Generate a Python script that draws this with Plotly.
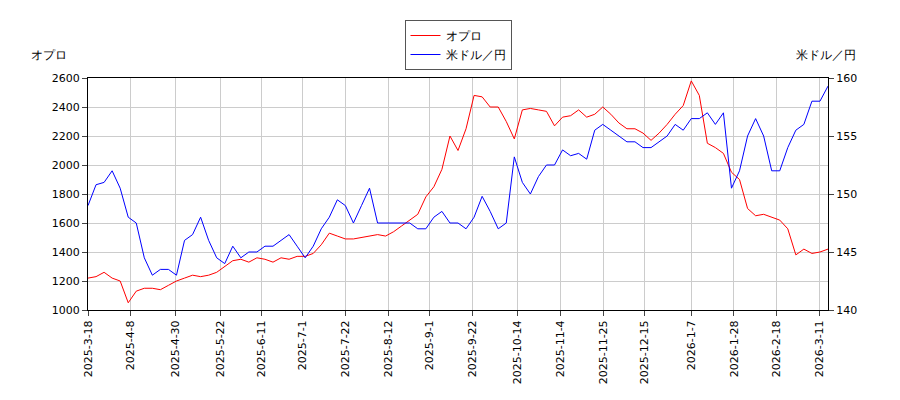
import pandas as pd
import plotly.graph_objects as go

# data (about every 4 days)
dates = pd.date_range("2025-03-18", "2026-03-15", periods=93)

opuro = [1220, 1230, 1260, 1220, 1200, 1050, 1130, 1150, 1150, 1140,
         1170, 1200, 1220, 1240, 1230, 1240, 1260, 1300, 1340, 1350,
         1330, 1360, 1350, 1330, 1360, 1350, 1370, 1370, 1390, 1450,
         1530, 1510, 1490, 1490, 1500, 1510, 1520, 1510, 1540, 1580,
         1620, 1660, 1780, 1850, 1970, 2200, 2100, 2250, 2480, 2470,
         2400, 2400, 2300, 2180, 2380, 2390, 2380, 2370, 2270, 2330,
         2340, 2380, 2330, 2350, 2400, 2350, 2290, 2250, 2250, 2220,
         2170, 2220, 2280, 2350, 2410, 2580, 2480, 2150, 2120, 2080,
         1950, 1900, 1700, 1650, 1660, 1640, 1620, 1560, 1380, 1420,
         1390, 1400, 1420]

usdjpy = [149, 150.8, 151, 152, 150.5, 148, 147.5, 144.5, 143, 143.5,
          143.5, 143, 146, 146.5, 148, 146, 144.5, 144, 145.5, 144.5,
          145, 145, 145.5, 145.5, 146, 146.5, 145.5, 144.5, 145.5, 147,
          148, 149.5, 149, 147.5, 149, 150.5, 147.5, 147.5, 147.5, 147.5,
          147.5, 147, 147, 148, 148.5, 147.5, 147.5, 147, 148, 149.8,
          148.5, 147, 147.5, 153.2, 151, 150, 151.5, 152.5, 152.5, 153.8,
          153.3, 153.5, 153, 155.5, 156, 155.5, 155, 154.5, 154.5, 154,
          154, 154.5, 155, 156, 155.5, 156.5, 156.5, 157, 156, 157,
          150.5, 152, 155, 156.5, 155, 152, 152, 154, 155.5, 156,
          158, 158, 159.3]

tick_text = ["2025-3-18", "2025-4-8", "2025-4-30", "2025-5-22", "2025-6-11",
             "2025-7-1", "2025-7-22", "2025-8-12", "2025-9-1", "2025-9-22",
             "2025-10-14", "2025-11-4", "2025-11-25", "2025-12-15", "2026-1-7",
             "2026-1-28", "2026-2-18", "2026-3-11"]
tick_dates = pd.to_datetime(tick_text, format="%Y-%m-%d")

fig = go.Figure()
fig.add_trace(go.Scatter(x=dates, y=opuro, mode="lines", name="オプロ",
                         line=dict(color="red", width=1)))
fig.add_trace(go.Scatter(x=dates, y=usdjpy, mode="lines", name="米ドル／円",
                         line=dict(color="blue", width=1), yaxis="y2"))

axis_common = dict(showline=True, linecolor="black", mirror=True, ticks="outside",
                   showgrid=True, gridcolor="#cccccc", zeroline=False,
                   tickfont=dict(size=11, color="black"))

fig.update_layout(
    width=900, height=400,
    paper_bgcolor="white", plot_bgcolor="white",
    font=dict(family="DejaVu Sans", size=11, color="black"),
    margin=dict(l=80, r=80, t=62, b=98),
    showlegend=True,
    legend=dict(x=0.5, y=1.25, xanchor="center", yanchor="top",
                bordercolor="#555555", borderwidth=1, font=dict(size=12)),
    xaxis=dict(**axis_common, tickvals=tick_dates, ticktext=tick_text,
               tickangle=-90, range=[dates[0], dates[-1]]),
    yaxis=dict(**axis_common, range=[1000, 2600], dtick=200),
    yaxis2=dict(**{k: v for k, v in axis_common.items() if k not in ("showgrid", "mirror")},
                overlaying="y", side="right", range=[140, 160], dtick=5, showgrid=False),
    annotations=[
        dict(text="オプロ", xref="paper", yref="paper", x=-0.08, y=1.06,
             xanchor="left", yanchor="bottom", showarrow=False, font=dict(size=12)),
        dict(text="米ドル／円", xref="paper", yref="paper", x=1.04, y=1.06,
             xanchor="right", yanchor="bottom", showarrow=False, font=dict(size=12)),
    ],
)

fig.write_html("out.html")
